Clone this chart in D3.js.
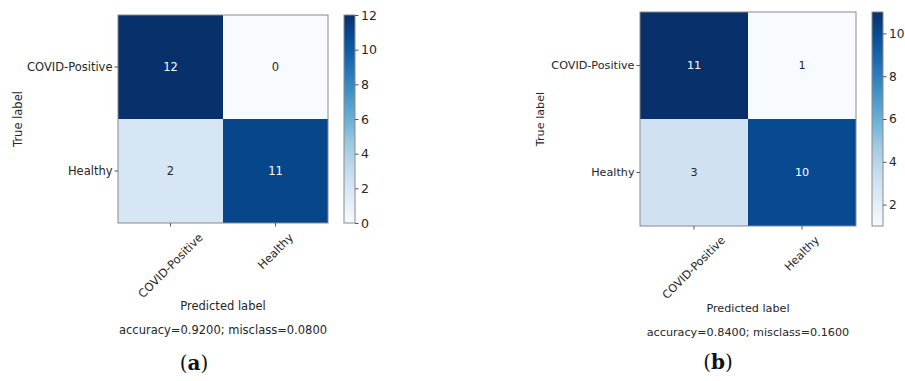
<!DOCTYPE html>
<html>
<head>
<meta charset="utf-8">
<script src="https://cdn.jsdelivr.net/npm/d3@7"></script>
<style>
  html, body { margin: 0; padding: 0; background: #fff; }
  svg { display: block; }
  text { font-family: "DejaVu Sans", sans-serif; fill: #262626; }
</style>
</head>
<body>
<svg id="chart" width="905" height="381"></svg>
<script>
// Class names shared by both confusion matrices
const classes = ["COVID-Positive", "Healthy"];

// Confusion matrices (rows = true label, columns = predicted label)
const matrixA = [[12, 0], [2, 11]];
const matrixB = [[11, 1], [3, 10]];

// Colour-bar ranges and tick labels
const colorDomainA = [0, 12];
const colorDomainB = [1, 11];
const colorTicksA = [0, 2, 4, 6, 8, 10, 12];
const colorTicksB = [2, 4, 6, 8, 10];

// Panel captions
const captions = ["a", "b"];

// matplotlib "Blues" colormap anchors
const bluesStops = ["#f7fbff", "#deebf7", "#c6dbef", "#9ecae1", "#6baed6",
                    "#4292c6", "#2171b5", "#08519c", "#08306b"];
const blues = t => {
  const s = Math.max(0, Math.min(1, t)) * (bluesStops.length - 1);
  const i = Math.min(Math.floor(s), bluesStops.length - 2);
  return d3.interpolateRgb(bluesStops[i], bluesStops[i + 1])(s - i);
};

const svg = d3.select("#chart");
const defs = svg.append("defs");

// Layout of each panel
const panels = [
  { matrix: matrixA, domain: colorDomainA, ticks: colorTicksA, caption: captions[0],
    box: { x0: 118, x1: 328, y0: 15, y1: 223 },
    bar: { x0: 344, x1: 355 },
    font: 11.5, yLabelX: 18, predY: 306, accY: 330, capX: 194, capY: 363 },
  { matrix: matrixB, domain: colorDomainB, ticks: colorTicksB, caption: captions[1],
    box: { x0: 640, x1: 856, y0: 12, y1: 226 },
    bar: { x0: 872, x1: 883 },
    font: 11.2, yLabelX: 540, predY: 308, accY: 332, capX: 718, capY: 362 }
];

const spineColor = "#8a8a8a";
const tickColor = "#555";

panels.forEach((p, pi) => {
  const g = svg.append("g");
  const x = d3.scaleBand().domain(d3.range(classes.length)).range([p.box.x0, p.box.x1]);
  const y = d3.scaleBand().domain(d3.range(classes.length)).range([p.box.y0, p.box.y1]);
  const norm = d3.scaleLinear().domain(p.domain).range([0, 1]);
  const color = v => blues(norm(v));
  const thresh = (p.domain[0] + p.domain[1]) / 2;

  const cells = [];
  p.matrix.forEach((row, i) => row.forEach((v, j) => cells.push({ i, j, v })));

  // heatmap cells
  g.selectAll("rect.cell").data(cells).join("rect")
    .attr("class", "cell")
    .attr("x", d => x(d.j)).attr("y", d => y(d.i))
    .attr("width", x.bandwidth()).attr("height", y.bandwidth())
    .attr("fill", d => color(d.v));

  // value annotations
  g.selectAll("text.val").data(cells).join("text")
    .attr("class", "val")
    .attr("x", d => x(d.j) + x.bandwidth() / 2)
    .attr("y", d => y(d.i) + y.bandwidth() / 2)
    .attr("text-anchor", "middle")
    .attr("dominant-baseline", "central")
    .style("font-size", p.font + "px")
    .style("fill", d => d.v > thresh ? "#ffffff" : "#262626")
    .text(d => d.v);

  // axes frame
  g.append("rect")
    .attr("x", p.box.x0).attr("y", p.box.y0)
    .attr("width", p.box.x1 - p.box.x0).attr("height", p.box.y1 - p.box.y0)
    .attr("fill", "none").attr("stroke", spineColor).attr("stroke-width", 1);

  // y ticks and labels
  classes.forEach((c, i) => {
    const cy = y(i) + y.bandwidth() / 2;
    g.append("line").attr("x1", p.box.x0 - 3.5).attr("x2", p.box.x0)
      .attr("y1", cy).attr("y2", cy).attr("stroke", tickColor);
    g.append("text").attr("x", p.box.x0 - 5.5).attr("y", cy)
      .attr("text-anchor", "end").attr("dominant-baseline", "central")
      .style("font-size", p.font + "px").text(c);
  });

  // x ticks and rotated labels (bounding box centred on the tick)
  classes.forEach((c, j) => {
    const cx = x(j) + x.bandwidth() / 2;
    g.append("line").attr("x1", cx).attr("x2", cx)
      .attr("y1", p.box.y1).attr("y2", p.box.y1 + 3.5).attr("stroke", tickColor);
    const t = g.append("text")
      .attr("text-anchor", "middle").attr("dominant-baseline", "central")
      .style("font-size", p.font + "px").text(c);
    const w = t.node().getComputedTextLength();
    const h = p.font * 1.1;
    const top = p.box.y1 + 8;
    const cyc = top + (w + h) / Math.SQRT2 / 2;
    t.attr("transform", `translate(${cx},${cyc}) rotate(-45)`);
  });

  // axis titles
  g.append("text")
    .attr("transform", `translate(${p.yLabelX},${(p.box.y0 + p.box.y1) / 2}) rotate(-90)`)
    .attr("text-anchor", "middle").attr("dominant-baseline", "central")
    .style("font-size", p.font + "px").text("True label");
  const midX = (p.box.x0 + p.box.x1) / 2;
  g.append("text").attr("x", midX).attr("y", p.predY)
    .attr("text-anchor", "middle").attr("dominant-baseline", "central")
    .style("font-size", p.font + "px").text("Predicted label");

  const total = d3.sum(p.matrix.flat());
  const correct = d3.sum(p.matrix.map((r, i) => r[i]));
  const acc = correct / total;
  g.append("text").attr("x", midX).attr("y", p.accY)
    .attr("text-anchor", "middle").attr("dominant-baseline", "central")
    .style("font-size", p.font + "px")
    .text(`accuracy=${acc.toFixed(4)}; misclass=${(1 - acc).toFixed(4)}`);

  // colour bar
  const gradId = "grad" + pi;
  const grad = defs.append("linearGradient").attr("id", gradId)
    .attr("x1", 0).attr("x2", 0).attr("y1", 1).attr("y2", 0);
  d3.range(0, 1.0001, 0.02).forEach(t => {
    grad.append("stop").attr("offset", t).attr("stop-color", blues(t));
  });
  const cb = d3.scaleLinear().domain(p.domain).range([p.box.y1, p.box.y0]);
  g.append("rect")
    .attr("x", p.bar.x0).attr("y", p.box.y0)
    .attr("width", p.bar.x1 - p.bar.x0).attr("height", p.box.y1 - p.box.y0)
    .attr("fill", `url(#${gradId})`).attr("stroke", spineColor).attr("stroke-width", 1);
  const cbAxis = d3.axisRight(cb).tickValues(p.ticks).tickSize(3.5).tickPadding(2.5);
  const ag = g.append("g").attr("transform", `translate(${p.bar.x1},0)`).call(cbAxis);
  ag.select(".domain").remove();
  ag.selectAll(".tick line").attr("stroke", tickColor);
  ag.selectAll(".tick text").style("font-size", (p.font + 1) + "px")
    .style("font-family", "'DejaVu Sans', sans-serif").attr("fill", "#262626");

  // caption "(a)" / "(b)"
  const cap = g.append("text").attr("x", p.capX).attr("y", p.capY)
    .attr("text-anchor", "middle").attr("dominant-baseline", "central")
    .style("font-family", "'DejaVu Serif', 'Liberation Serif', serif")
    .style("font-size", "20px").style("fill", "#111");
  cap.append("tspan").text("(");
  cap.append("tspan").style("font-weight", "bold").text(p.caption);
  cap.append("tspan").text(")");
});
</script>
</body>
</html>
